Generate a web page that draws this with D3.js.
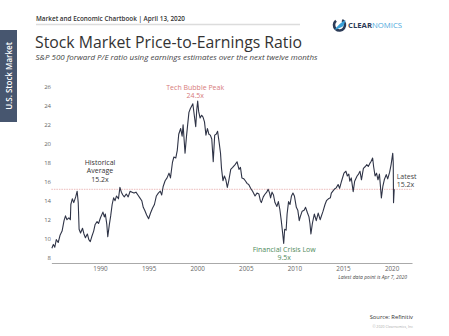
<!DOCTYPE html>
<html>
<head>
<meta charset="utf-8">
<script src="https://cdn.jsdelivr.net/npm/d3@7"></script>
<style>
  body { margin: 0; background: #fff; }
  svg { display: block; font-family: "Open Sans", "Noto Sans", sans-serif; }
</style>
</head>
<body>
<div id="chart-area"></div>
<script>
// S&P 500 forward P/E (decimal years)
const years = [
  1985.05, 1985.2, 1985.35, 1985.5, 1985.7, 1985.9, 1986.1, 1986.3, 1986.45, 1986.6,
  1986.8, 1986.95, 1987.0, 1987.15, 1987.3, 1987.5, 1987.65, 1987.76, 1987.85, 1988.0,
  1988.2, 1988.35, 1988.5, 1988.7, 1988.85, 1989.0, 1989.15, 1989.35, 1989.5, 1989.7,
  1989.85, 1990.05, 1990.3, 1990.45, 1990.55, 1990.7, 1990.8, 1990.95, 1991.1, 1991.25,
  1991.4, 1991.55, 1991.7, 1991.9, 1992.05, 1992.2, 1992.35, 1992.5, 1992.7, 1992.9,
  1993.1, 1993.3, 1993.5, 1993.7, 1993.9, 1994.1, 1994.3, 1994.45, 1994.6, 1994.8,
  1995.0, 1995.2, 1995.4, 1995.6, 1995.8, 1996.0, 1996.2, 1996.35, 1996.5, 1996.7,
  1996.9, 1997.1, 1997.25, 1997.45, 1997.6, 1997.8, 1997.95, 1998.1, 1998.3, 1998.45,
  1998.55, 1998.75, 1998.9, 1999.0, 1999.15, 1999.3, 1999.45, 1999.55, 1999.7, 1999.85,
  1999.95, 2000.05, 2000.15, 2000.3, 2000.45, 2000.6, 2000.75, 2000.9, 2001.05, 2001.2,
  2001.35, 2001.5, 2001.65, 2001.8, 2001.95, 2002.1, 2002.25, 2002.4, 2002.5, 2002.65,
  2002.8, 2002.95, 2003.1, 2003.25, 2003.45, 2003.65, 2003.9, 2004.1, 2004.3, 2004.45,
  2004.6, 2004.8, 2004.95, 2005.15, 2005.3, 2005.5, 2005.7, 2005.95, 2006.15, 2006.35,
  2006.5, 2006.6, 2006.8, 2006.95, 2007.15, 2007.3, 2007.45, 2007.55, 2007.7, 2007.85,
  2008.0, 2008.2, 2008.35, 2008.5, 2008.65, 2008.8, 2008.9, 2009.0, 2009.15, 2009.25,
  2009.4, 2009.55, 2009.7, 2009.85, 2010.0, 2010.2, 2010.35, 2010.5, 2010.6, 2010.8,
  2011.0, 2011.15, 2011.35, 2011.5, 2011.6, 2011.7, 2011.85, 2012.05, 2012.25, 2012.45,
  2012.65, 2012.95, 2013.15, 2013.3, 2013.5, 2013.7, 2013.8, 2014.1, 2014.3, 2014.5,
  2014.65, 2014.85, 2015.1, 2015.3, 2015.45, 2015.6, 2015.7, 2015.85, 2016.05, 2016.2,
  2016.45, 2016.6, 2016.75, 2016.9, 2017.1, 2017.3, 2017.45, 2017.6, 2017.75, 2017.9,
  2018.05, 2018.15, 2018.3, 2018.45, 2018.6, 2018.75, 2018.95, 2019.1, 2019.25, 2019.45,
  2019.6, 2019.8, 2019.95, 2020.12, 2020.17, 2020.2, 2020.27
]
const peRatio = [
  9.0, 9.4, 9.1, 9.9, 9.6, 10.4, 10.8, 11.9, 12.4, 12.0,
  12.2, 12.0, 13.6, 14.2, 13.8, 14.4, 15.0, 13.8, 11.0, 10.6,
  11.1, 10.5, 10.1, 10.5, 9.9, 9.7, 10.2, 10.8, 11.5, 11.8,
  11.6, 12.2, 12.8, 12.3, 12.6, 11.5, 10.2, 11.4, 12.4, 13.6,
  14.3, 14.0, 14.5, 14.2, 15.4, 14.9, 14.6, 14.4, 14.7, 14.4,
  15.0, 14.9, 14.8, 14.9, 14.6, 14.3, 14.0, 13.3, 13.0, 12.5,
  12.1, 12.7, 13.2, 13.6, 14.5, 14.8, 15.0, 14.6, 15.5, 16.1,
  16.4, 16.9, 16.4, 18.0, 18.6, 18.5, 19.3, 21.0, 21.6, 20.8,
  22.0, 19.0, 20.8, 21.8, 23.3, 23.7, 24.0, 24.2, 23.0, 21.8,
  23.5, 24.5, 23.4, 22.7, 23.0, 22.8, 22.3, 20.9, 21.6, 21.0,
  20.9, 20.5, 18.1, 20.9, 21.0, 21.3, 20.2, 19.0, 17.4, 16.1,
  16.6, 16.2, 15.4, 16.1, 17.3, 17.5, 17.8, 18.1, 17.3, 17.5,
  16.4, 16.3, 16.1, 15.8, 15.7, 15.3, 15.0, 14.5, 14.8, 14.7,
  14.0, 13.8, 14.4, 14.65, 14.9, 15.2, 14.8, 14.3, 14.9, 14.6,
  13.8, 13.4, 13.9, 13.1, 11.9, 10.5, 9.5, 11.0, 10.9, 12.6,
  13.9, 13.6, 14.5, 14.8, 14.5, 13.3, 13.0, 11.9, 12.3, 12.9,
  13.0, 13.3, 12.7, 12.3, 11.6, 10.5, 11.6, 12.6, 11.9, 12.7,
  12.0, 12.9, 13.6, 14.0, 14.2, 14.3, 14.8, 15.2, 15.35, 15.7,
  15.3, 16.05, 16.9, 17.1, 16.6, 16.8, 16.05, 16.4, 14.95, 16.05,
  16.6, 16.8, 17.1, 16.2, 17.4, 17.6, 17.8, 17.6, 17.9, 18.15,
  18.5, 17.6, 16.6, 16.9, 16.2, 16.8, 14.3, 15.5, 16.2, 16.75,
  16.3, 17.0, 17.8, 19.0, 18.0, 13.8, 15.2
]
const yTicks = [8, 10, 12, 14, 16, 18, 20, 22, 24, 26]
const xTicks = [1990, 1995, 2000, 2005, 2010, 2015, 2020]
const historicalAvg = 15.2
const peakLabel = ["Tech Bubble Peak", "24.5x"]
const lowLabel = ["Financial Crisis Low", "9.5x"]
const avgLabel = ["Historical", "Average", "15.2x"]
const latestLabel = ["Latest", "15.2x"]

const W = 449, H = 336
const svg = d3.select("#chart-area").append("svg")
  .attr("width", W)
  .attr("height", H)

// side tab
svg.append("rect")
  .attr("x", 0).attr("y", 30).attr("width", 17).attr("height", 92)
  .attr("fill", "#47566f")
svg.append("text")
  .attr("transform", "translate(11.5, 76) rotate(-90)")
  .attr("text-anchor", "middle")
  .attr("font-size", "8px")
  .attr("font-weight", 600)
  .attr("fill", "#fff")
  .text("U.S. Stock Market")

// header
svg.append("text")
  .attr("x", 36).attr("y", 20.5)
  .attr("font-size", "7px")
  .attr("font-weight", 600)
  .attr("fill", "#333")
  .attr("textLength", 149).attr("lengthAdjust", "spacingAndGlyphs")
  .text("Market and Economic Chartbook | April 13, 2020")
svg.append("line")
  .attr("x1", 36).attr("x2", 300).attr("y1", 24.5).attr("y2", 24.5)
  .attr("stroke", "#dcdcdc").attr("stroke-width", 1.5)

// logo
const logo = svg.append("g").attr("transform", "translate(339.5, 25)")
logo.append("path")
  .attr("d", d3.arc()({ innerRadius: 4.2, outerRadius: 6.8, startAngle: 0.5, endAngle: 5.6 }))
  .attr("fill", "#2c3b57")
logo.append("path")
  .attr("d", "M-5,5 Q0,-2 6,-5 L4,1 Q1,3 -5,5 Z")
  .attr("fill", "#3aa0d8")
const logoText = svg.append("text")
  .attr("x", 348).attr("y", 27.5)
  .attr("font-size", "7px")
  .attr("font-weight", 700)
  .attr("textLength", 54).attr("lengthAdjust", "spacingAndGlyphs")
logoText.append("tspan").attr("fill", "#2c3b57").text("CLEAR")
logoText.append("tspan").attr("fill", "#4aa8dc").attr("font-weight", 400).text("NOMICS")

// titles
svg.append("text")
  .attr("x", 35).attr("y", 47.5)
  .attr("font-size", "16.5px")
  .attr("fill", "#333")
  .attr("textLength", 267).attr("lengthAdjust", "spacingAndGlyphs")
  .text("Stock Market Price-to-Earnings Ratio")
svg.append("text")
  .attr("x", 35.5).attr("y", 59.5)
  .attr("font-size", "7px")
  .attr("font-style", "italic")
  .attr("fill", "#444")
  .attr("textLength", 282).attr("lengthAdjust", "spacingAndGlyphs")
  .text("S&P 500 forward P/E ratio using earnings estimates over the next twelve months")

// scales
const x = d3.scaleLinear().domain([1985, 2022.1]).range([51.4, 412])
const y = d3.scaleLinear().domain([8, 26]).range([257.7, 86.7])
const AXIS_Y = 263

// y axis (labels only)
const yAxis = svg.append("g")
  .attr("transform", "translate(52, 0)")
  .call(d3.axisLeft(y).tickValues(yTicks).tickSize(0).tickPadding(1))
yAxis.select(".domain").remove()
yAxis.selectAll("text")
  .attr("font-family", "'Open Sans', sans-serif")
  .attr("font-size", "6px")
  .attr("fill", "#666")

// x axis
const xAxis = svg.append("g")
  .attr("transform", `translate(0, ${AXIS_Y})`)
  .call(d3.axisBottom(x).tickValues(xTicks).tickSize(0).tickPadding(3.5).tickFormat(d3.format("d")))
xAxis.select(".domain").attr("stroke", "#aaa").attr("stroke-width", 1.2)
xAxis.selectAll("text")
  .attr("font-family", "'Open Sans', sans-serif")
  .attr("font-size", "6.3px")
  .attr("fill", "#666")

// historical average
svg.append("line")
  .attr("x1", x(1985)).attr("x2", x(2022.1))
  .attr("y1", y(historicalAvg)).attr("y2", y(historicalAvg))
  .attr("stroke", "#e7a8a8")
  .attr("stroke-width", 0.8)
  .attr("stroke-dasharray", "1.5,1")

// P/E line
const series = years.map((yr, i) => ({ yr, v: peRatio[i] }))
const line = d3.line().x(d => x(d.yr)).y(d => y(d.v))
svg.append("path")
  .datum(series)
  .attr("d", line)
  .attr("fill", "none")
  .attr("stroke", "#2f3447")
  .attr("stroke-width", 1.1)
  .attr("stroke-linejoin", "round")

// annotations
function multiline(lines, cx, cy, anchor, color, step) {
  const t = svg.append("text")
    .attr("text-anchor", anchor)
    .attr("font-size", "7px")
    .attr("fill", color)
  lines.forEach((s, i) => {
    t.append("tspan").attr("x", cx).attr("y", cy + i * step).text(s)
  })
}
multiline(peakLabel, x(2000.0) - 2, 90, "middle", "#d77b7b", 8.2)
multiline(avgLabel, x(1990.0), 165, "middle", "#333", 8.3)
multiline(lowLabel, x(2008.95), 252, "middle", "#4f8b5b", 8.3)
multiline(latestLabel, x(2020.27) + 2.5, 179, "start", "#444", 7.5)

// footer notes
svg.append("text")
  .attr("x", 407).attr("y", 279)
  .attr("text-anchor", "end")
  .attr("font-size", "5px")
  .attr("font-style", "italic")
  .attr("fill", "#444")
  .text("Latest data point is Apr 7, 2020")
svg.append("text")
  .attr("x", 413).attr("y", 318.5)
  .attr("text-anchor", "end")
  .attr("font-size", "5.8px")
  .attr("fill", "#333")
  .text("Source: Refinitiv")
svg.append("text")
  .attr("x", 413).attr("y", 327.5)
  .attr("text-anchor", "end")
  .attr("font-size", "3.6px")
  .attr("fill", "#aaa")
  .text("© 2020 Clearnomics, Inc")
</script>
</body>
</html>
